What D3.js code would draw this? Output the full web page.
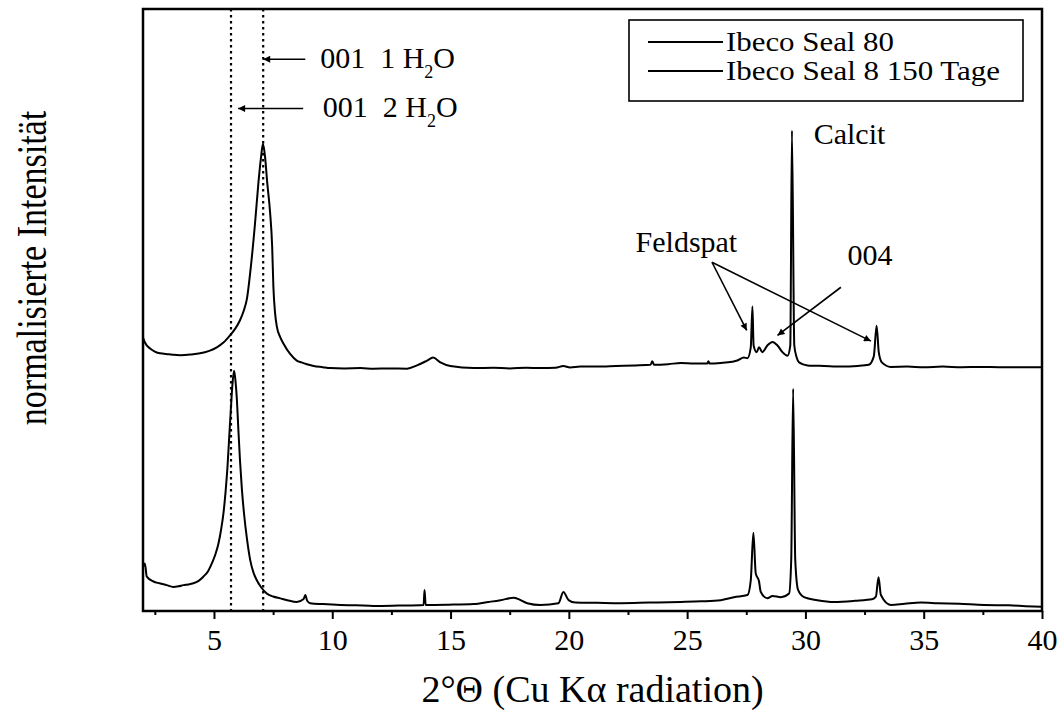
<!DOCTYPE html>
<html>
<head>
<meta charset="utf-8">
<script src="https://cdn.jsdelivr.net/npm/d3@7"></script>
<style>
  html, body { margin: 0; padding: 0; background: #fff; }
  svg { display: block; }
  svg text { font-family: "Liberation Serif", "Times New Roman", serif !important; fill: #000; }
</style>
</head>
<body>
<svg id="chart" width="1061" height="716"></svg>
<script>
// ---------- DATA ----------
const seriesNames = ["Ibeco Seal 80", "Ibeco Seal 8 150 Tage"];

// Ibeco Seal 80 (upper trace, offset)
const upperTheta = [2.0, 2.08, 2.30, 2.5, 2.72, 3.1, 3.3, 3.57, 4.0, 4.2, 4.41, 4.8, 5.12, 5.4, 5.68, 5.9, 6.10, 6.25, 6.39, 6.57, 6.74, 6.88, 6.99, 7.07, 7.16, 7.25, 7.37, 7.46, 7.51, 7.58, 7.66, 7.80, 7.94, 8.22, 8.50, 8.7, 8.93, 9.21, 9.6, 9.91, 10.5, 11.2, 11.75, 12.4, 13.16, 13.58, 14.01, 14.26, 14.57, 14.99, 15.98, 16.8, 17.5, 18.2, 18.80, 19.44, 19.77, 20.05, 20.49, 21.2, 22.0, 22.8, 23.45, 23.53, 23.6, 24.2, 24.73, 25.3, 25.85, 25.90, 25.95, 26.43, 26.9, 27.12, 27.40, 27.55, 27.69, 27.76, 27.81, 27.94, 28.04, 28.18, 28.39, 28.61, 28.82, 29.03, 29.24, 29.36, 29.43, 29.53, 29.63, 29.73, 30.09, 30.8, 31.50, 32.2, 32.68, 32.89, 33.01, 33.10, 33.23, 33.61, 34.3, 35.0, 35.8, 36.6, 37.4, 38.2, 39.0, 40.0];
const upperIntensity = [45.4, 44.6, 43.6, 43.1, 42.8, 42.65, 42.55, 42.5, 42.6, 42.7, 42.8, 43.2, 43.8, 44.6, 45.8, 46.9, 48.3, 49.8, 51.8, 57.6, 64.6, 71.2, 75.4, 77.6, 75.4, 71.2, 66.3, 60.5, 54.0, 49.6, 47.2, 45.5, 44.4, 42.7, 41.6, 41.3, 41.0, 40.7, 40.5, 40.35, 40.3, 40.35, 40.25, 40.3, 40.25, 40.8, 41.6, 42.1, 41.3, 40.7, 40.35, 40.4, 40.3, 40.4, 40.35, 40.4, 40.7, 40.45, 40.6, 40.6, 40.7, 40.8, 40.9, 41.5, 40.9, 41.0, 41.2, 41.1, 41.1, 41.5, 41.1, 41.2, 41.4, 41.6, 42.1, 42.0, 43.8, 50.6, 44.1, 43.0, 43.8, 43.0, 44.1, 44.7, 44.1, 43.0, 42.4, 44.1, 79.8, 44.1, 42.1, 41.3, 40.8, 40.7, 40.6, 40.7, 40.9, 42.3, 47.4, 43.0, 41.3, 40.55, 40.6, 40.5, 40.6, 40.5, 40.55, 40.5, 40.5, 40.5];

// Ibeco Seal 8 150 Tage (lower trace)
const lowerTheta = [2.0, 2.08, 2.16, 2.44, 2.7, 3.00, 3.28, 3.5, 3.71, 3.9, 4.13, 4.35, 4.55, 4.75, 4.91, 5.05, 5.19, 5.30, 5.40, 5.49, 5.57, 5.64, 5.71, 5.78, 5.85, 5.91, 5.97, 6.03, 6.10, 6.18, 6.27, 6.40, 6.53, 6.66, 6.81, 7.0, 7.23, 7.50, 7.80, 8.1, 8.50, 8.79, 8.86, 8.94, 9.07, 9.6, 10.34, 11.0, 11.75, 12.8, 13.86, 13.90, 13.95, 14.9, 15.98, 16.6, 17.11, 17.67, 18.24, 18.80, 19.56, 19.77, 19.99, 20.28, 21.2, 22.19, 23.4, 24.73, 25.6, 26.42, 26.98, 27.55, 27.69, 27.80, 27.90, 28.04, 28.11, 28.39, 28.61, 28.96, 29.31, 29.40, 29.48, 29.57, 29.69, 29.94, 30.5, 31.21, 32.1, 32.85, 32.98, 33.09, 33.19, 33.61, 34.2, 34.88, 35.6, 36.5, 37.55, 38.6, 39.3, 40.0];
const lowerIntensity = [7.3, 7.9, 5.7, 4.9, 4.6, 4.3, 4.0, 4.1, 4.3, 4.4, 4.6, 5.0, 5.7, 6.6, 7.9, 9.3, 11.2, 13.5, 16.2, 19.8, 23.9, 28.6, 33.3, 37.6, 39.9, 38.2, 35.0, 30.2, 25.0, 20.2, 16.2, 11.8, 8.5, 6.5, 5.1, 3.9, 2.9, 2.4, 2.1, 1.8, 1.5, 2.0, 2.65, 1.7, 1.3, 1.15, 1.0, 0.95, 0.83, 0.9, 1.0, 3.5, 1.0, 1.05, 1.16, 1.5, 1.8, 2.2, 1.3, 1.0, 1.3, 3.15, 1.8, 1.4, 1.35, 1.3, 1.4, 1.5, 1.6, 1.8, 2.3, 2.65, 5.1, 13.0, 6.25, 4.9, 3.2, 2.1, 2.5, 2.3, 2.9, 8.5, 36.9, 8.5, 3.5, 2.3, 1.8, 1.5, 1.7, 2.0, 2.4, 5.6, 2.65, 1.0, 1.2, 1.4, 1.3, 1.2, 1.0, 0.95, 0.8, 0.7];

// Reference positions (2θ) of the dotted lines: 001 with 2 H2O and 1 H2O
const refLinesTheta = [5.72, 7.08];

// Axis ticks
const xDomain = [2, 40];
const majorTicks = [5, 10, 15, 20, 25, 30, 35, 40];
const minorTicks = [2.5, 7.5, 12.5, 17.5, 22.5, 27.5, 32.5, 37.5];

// Annotations (data coordinates)
const annoLabels = ["Feldspat", "004", "Calcit"];
const annoTheta = [22.82, 31.78, 30.35];
const annoIntensity = [59.6, 57.4, 77.6];
// arrows: [theta, intensity] start and end
const arrowsFrom = [[8.86, 91.66], [8.77, 83.47], [26.05, 57.93], [26.05, 57.93], [31.50, 53.78]];
const arrowsTo = [[7.08, 91.66], [6.02, 83.47], [27.52, 46.6], [32.77, 44.83], [28.82, 45.77]];
const waterLabels = ["1", "2"];
const waterTheta = [9.49, 9.60];
const waterIntensity = [90.27, 82.09];

const xTitle = "2°Θ (Cu Kα radiation)";
const yTitle = "normalisierte Intensität";

// ---------- DRAW ----------
const svg = d3.select("#chart");
const L = 143, R = 1042, T = 9, B = 611;
const x = d3.scaleLinear().domain(xDomain).range([L, R]);
const y = d3.scaleLinear().domain([0, 100]).range([B, T]);

svg.append("defs").append("marker")
  .attr("id", "ah").attr("viewBox", "0 0 10 10")
  .attr("refX", 10).attr("refY", 5)
  .attr("markerWidth", 13).attr("markerHeight", 7)
  .attr("markerUnits", "userSpaceOnUse")
  .attr("orient", "auto")
  .append("path").attr("d", "M0,0 L10,5 L0,10 Z").attr("fill", "#000");

const line = d3.line().x(d => x(d[0])).y(d => y(d[1])).curve(d3.curveMonotoneX);
const upper = upperTheta.map((t, i) => [t, upperIntensity[i]]);
const lower = lowerTheta.map((t, i) => [t, lowerIntensity[i]]);

const plot = svg.append("g");
plot.append("clipPath").attr("id", "clip").append("rect")
  .attr("x", L).attr("y", T).attr("width", R - L).attr("height", B - T);

// dotted reference lines
plot.selectAll(".ref").data(refLinesTheta).enter().append("line")
  .attr("x1", d => x(d)).attr("x2", d => x(d))
  .attr("y1", T).attr("y2", B)
  .attr("stroke", "#000").attr("stroke-width", 2.2)
  .attr("stroke-dasharray", "2.5,3.5");

const traces = plot.append("g").attr("clip-path", "url(#clip)");
[upper, lower].forEach(s => {
  traces.append("path").datum(s).attr("d", line)
    .attr("fill", "none").attr("stroke", "#000")
    .attr("stroke-width", 2).attr("stroke-linejoin", "round");
});

// frame
svg.append("rect").attr("x", L).attr("y", T).attr("width", R - L).attr("height", B - T)
  .attr("fill", "none").attr("stroke", "#000").attr("stroke-width", 2.5);

// bottom axis
const xAxis = d3.axisBottom(x).tickValues(majorTicks).tickSize(8).tickPadding(10)
  .tickFormat(d3.format("d"));
const gx = svg.append("g").attr("transform", `translate(0,${B})`).call(xAxis)
  .attr("font-family", null);
gx.select(".domain").remove();
gx.selectAll(".tick line").attr("stroke", "#000").attr("stroke-width", 2);
gx.selectAll(".tick text").attr("font-size", 30).attr("fill", "#000");
const gxm = svg.append("g").attr("transform", `translate(0,${B})`)
  .call(d3.axisBottom(x).tickValues(minorTicks).tickSize(4).tickFormat(""));
gxm.select(".domain").remove();
gxm.selectAll(".tick line").attr("stroke", "#000").attr("stroke-width", 2);

// axis titles
svg.append("text").attr("x", (L + R) / 2).attr("y", 702)
  .attr("text-anchor", "middle").attr("font-size", 38).text(xTitle);
svg.append("text").attr("transform", `translate(46,268) rotate(-90) scale(1,1.25)`)
  .attr("text-anchor", "middle").attr("font-size", 34).text(yTitle);

// arrows
svg.selectAll(".arrow").data(arrowsFrom).enter().append("line")
  .attr("x1", d => x(d[0])).attr("y1", d => y(d[1]))
  .attr("x2", (d, i) => x(arrowsTo[i][0])).attr("y2", (d, i) => y(arrowsTo[i][1]))
  .attr("stroke", "#000").attr("stroke-width", 1.6)
  .attr("marker-end", "url(#ah)");

// water labels: 001  n H2O
waterLabels.forEach((n, i) => {
  const t = svg.append("text").attr("x", x(waterTheta[i])).attr("y", y(waterIntensity[i]))
    .attr("font-size", 30);
  t.append("tspan").text("001\u00A0\u00A0" + n + "\u00A0H");
  t.append("tspan").attr("font-size", 18).attr("dy", 10).text("2");
  t.append("tspan").attr("dy", -10).text("O");
});

// other annotation labels
svg.selectAll(".anno").data(annoLabels).enter().append("text")
  .attr("x", (d, i) => x(annoTheta[i])).attr("y", (d, i) => y(annoIntensity[i]))
  .attr("font-size", 30).text(d => d);

// legend
const lg = svg.append("g");
lg.append("rect").attr("x", 629).attr("y", 20).attr("width", 394).attr("height", 81)
  .attr("fill", "#fff").attr("stroke", "#000").attr("stroke-width", 1.6);
const legendWidths = [168, 274];
seriesNames.forEach((name, i) => {
  const yy = 42 + i * 29;
  lg.append("line").attr("x1", 648).attr("x2", 723).attr("y1", yy).attr("y2", yy)
    .attr("stroke", "#000").attr("stroke-width", 1.8);
  lg.append("text").attr("x", 726).attr("y", yy + 9).attr("font-size", 27)
    .attr("textLength", legendWidths[i]).attr("lengthAdjust", "spacingAndGlyphs")
    .text(name);
});
</script>
</body>
</html>
